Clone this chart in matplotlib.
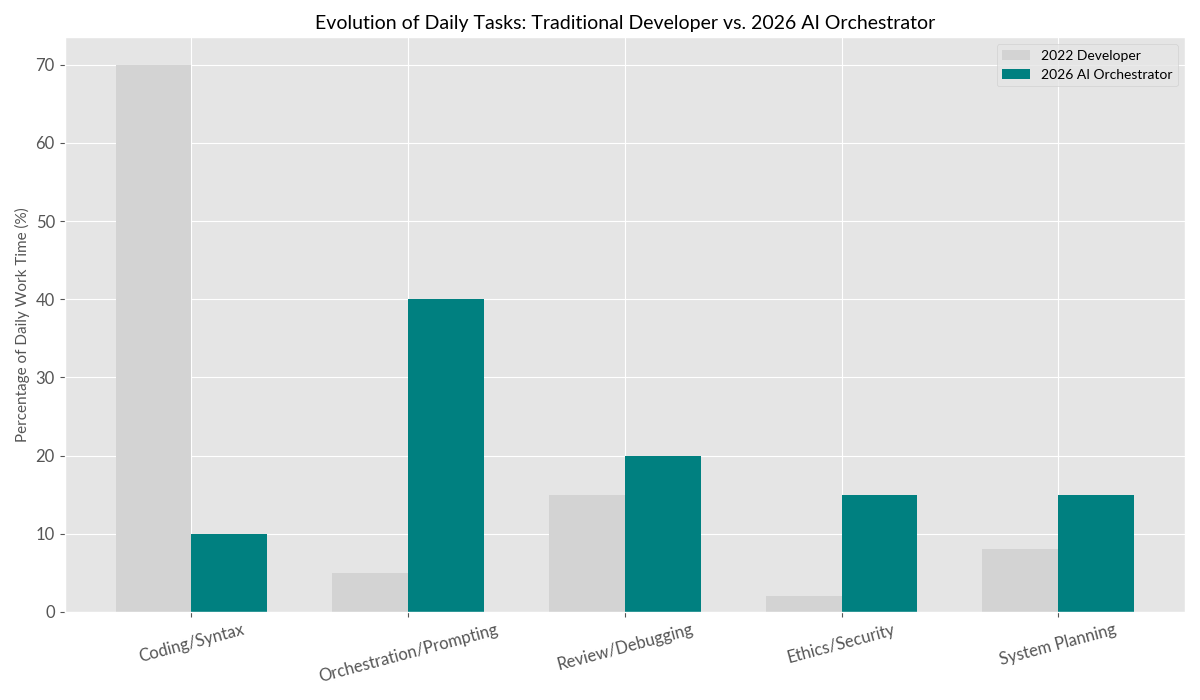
import numpy as np
import matplotlib

matplotlib.use("Agg")
import matplotlib.pyplot as plt

plt.style.use("ggplot")
plt.rcParams["font.family"] = ["Lato", "DejaVu Sans"]

categories = ["Coding/Syntax", "Orchestration/Prompting", "Review/Debugging",
              "Ethics/Security", "System Planning"]
dev_2022 = [70, 5, 15, 2, 8]
ai_2026 = [10, 40, 20, 15, 15]

x = np.arange(len(categories))
width = 0.35

fig, ax = plt.subplots(figsize=(12, 7), dpi=100)
ax.bar(x - width / 2, dev_2022, width, label="2022 Developer", color="lightgray")
ax.bar(x + width / 2, ai_2026, width, label="2026 AI Orchestrator", color="teal")

ax.set_title("Evolution of Daily Tasks: Traditional Developer vs. 2026 AI Orchestrator",
             fontsize=14, color="black")
ax.set_ylabel("Percentage of Daily Work Time (%)", fontsize=11)
ax.set_xticks(x)
ax.set_xticklabels(categories, rotation=15, fontsize=12)
ax.tick_params(axis="y", labelsize=12)
ax.legend(fontsize=10, facecolor="#e5e5e5", framealpha=0.8)

fig.tight_layout()
fig.savefig("out.png")
